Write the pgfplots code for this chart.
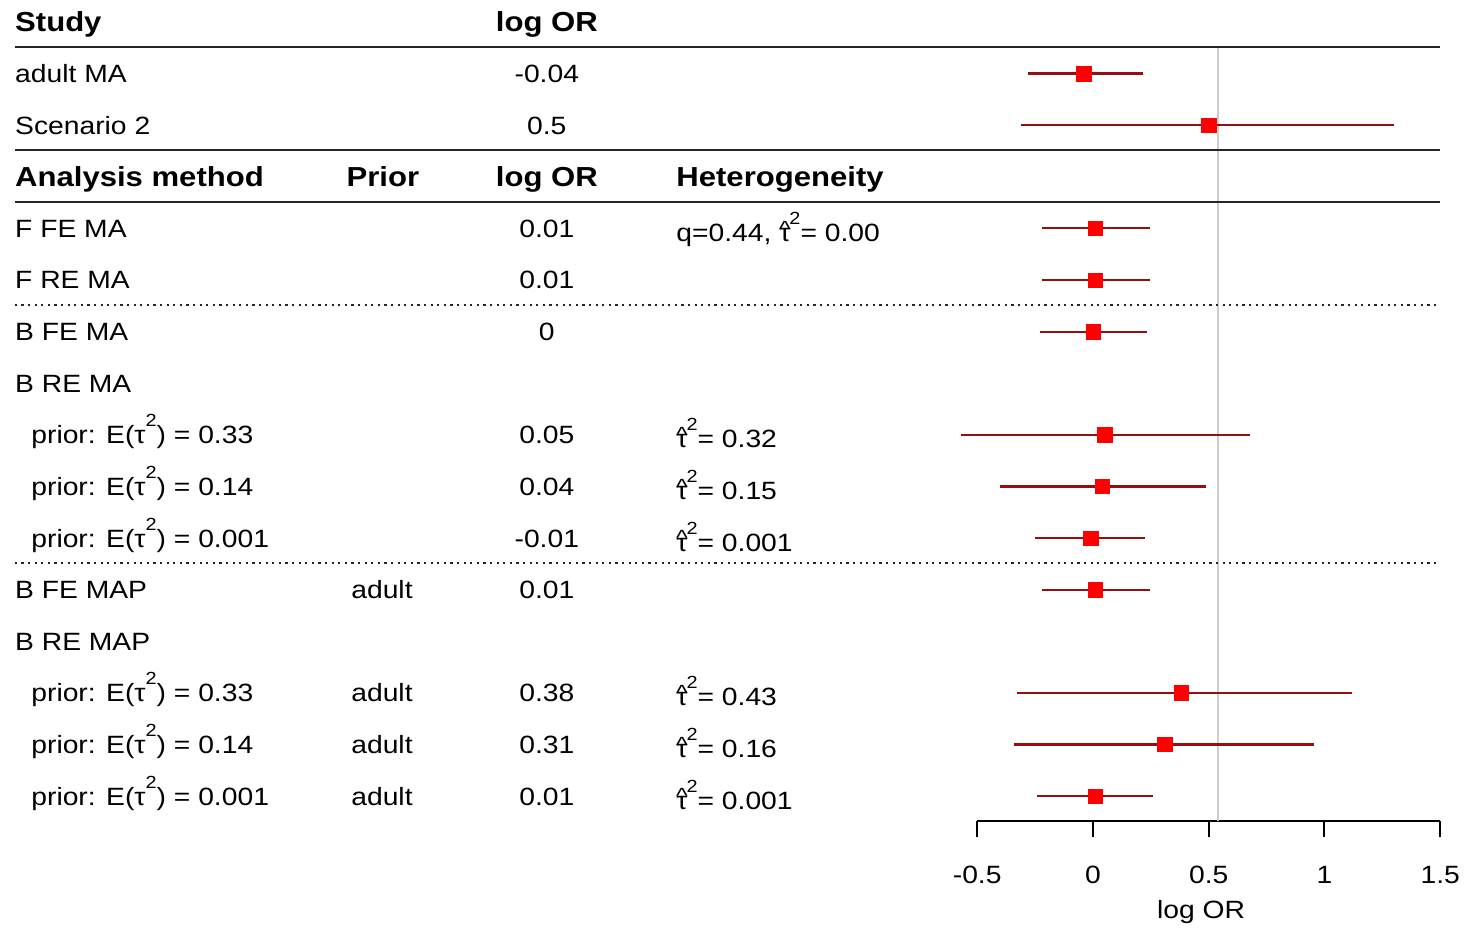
\documentclass[border=0pt]{standalone}
\usepackage{fontspec}
\setmainfont{Liberation Sans}[FakeStretch=1.13]
\usepackage{pgfplots}
\pgfplotsset{compat=1.18}

\definecolor{cired}{RGB}{150,15,15}
\definecolor{refgray}{RGB}{205,205,205}

% tau with hat, and the small raised 2
\newcommand\tauhat{\ooalign{τ\cr\hidewidth\raisebox{2.6pt}{\fontsize{11}{11}\selectfont\textasciicircum}\hidewidth\cr}}
\newcommand\sq{\raisebox{8.5pt}{\fontsize{8.8}{8.8}\selectfont 2}}
\newcommand\prior[1]{prior: E(τ\sq) = #1}
\newcommand\het[1]{\tauhat\kern-0.5pt\sq= #1}

\begin{document}
\fontsize{12.5}{15}\selectfont
\begin{tikzpicture}[
  lt/.style={anchor=base west, yshift=-4.5pt, inner sep=0pt},
  ct/.style={anchor=base, yshift=-4.5pt, inner sep=0pt},
  hl/.style={anchor=base west, yshift=-5pt, inner sep=0pt, font=\fontsize{13.75}{16}\selectfont\bfseries},
  hc/.style={anchor=base, yshift=-5pt, inner sep=0pt, font=\fontsize{13.75}{16}\selectfont\bfseries},
  ht/.style={anchor=base west, yshift=-6.5pt, inner sep=0pt},
]
\begin{axis}[
  x=115.75pt, y=25.8pt,
  xmin=-0.5, xmax=1.5, ymin=-15.484, ymax=0.426,
  axis x line*=bottom, axis y line=none,
  clip=false,
  xtick={-0.5,0,0.5,1,1.5},
  xticklabels={-0.5,0,0.5,1,1.5},
  ytick=\empty,
  tick align=outside,
  major tick length=8pt,
  every tick/.style={black, line width=1pt},
  x axis line style={black, line width=1pt, -},
  x tick label style={anchor=base, yshift=-23pt},
  xlabel={log OR},
  xlabel style={at={(axis description cs:0.4835,0)}, anchor=base, yshift=-48.5pt},
]
% picture frame
\path (axis cs:-4.721,0.426) rectangle (axis cs:1.663,-17.50);

% reference line
\draw[refgray, line width=0.8pt] (axis cs:0.54,-0.484) -- (axis cs:0.54,-15.484);

% rules
\draw[black!85, line width=1pt] (axis cs:-4.657,-0.484) -- (axis cs:1.5,-0.484);
\draw[black!85, line width=1pt] (axis cs:-4.657,-2.48) -- (axis cs:1.5,-2.48);
\draw[black!85, line width=1pt] (axis cs:-4.657,-3.488) -- (axis cs:1.5,-3.488);
\draw[black!85, line width=1.1pt, dash pattern=on 1.1pt off 2.2pt] (axis cs:-4.657,-5.484) -- (axis cs:1.5,-5.484);
\draw[black!85, line width=1.1pt, dash pattern=on 1.1pt off 2.2pt] (axis cs:-4.657,-10.484) -- (axis cs:1.5,-10.484);

% estimates with intervals
\addplot[only marks, mark=square*, mark size=3.6pt,
  mark options={draw=red, fill=red, line width=0.2pt},
  error bars/.cd, x dir=both, x explicit, error mark=none,
  error bar style={cired, line width=1.1pt}]
  table[x=est, y=y,
    x error plus expr=\thisrow{hi}-\thisrow{est},
    x error minus expr=\thisrow{est}-\thisrow{lo}] {
  y    est    lo     hi
  -1   -0.04  -0.28  0.215
  -2    0.50  -0.31  1.30
  -4    0.01  -0.22  0.245
  -5    0.01  -0.22  0.245
  -6    0.00  -0.23  0.235
  -8    0.05  -0.57  0.68
  -9    0.04  -0.40  0.49
  -10  -0.01  -0.25  0.225
  -11   0.01  -0.22  0.245
  -13   0.38  -0.33  1.12
  -14   0.31  -0.34  0.955
  -15   0.01  -0.24  0.26
};

% headers
\node[hl] at (axis cs:-4.657,0) {Study};
\node[hc] at (axis cs:-2.359,0) {log OR};
\node[hl] at (axis cs:-4.657,-3) {Analysis method};
\node[hc] at (axis cs:-3.067,-3) {Prior};
\node[hc] at (axis cs:-2.359,-3) {log OR};
\node[hl] at (axis cs:-1.801,-3) {Heterogeneity};

% first column
\node[lt] at (axis cs:-4.657,-1) {adult MA};
\node[lt] at (axis cs:-4.657,-2) {Scenario 2};
\node[lt] at (axis cs:-4.657,-4) {F FE MA};
\node[lt] at (axis cs:-4.657,-5) {F RE MA};
\node[lt] at (axis cs:-4.657,-6) {B FE MA};
\node[lt] at (axis cs:-4.657,-7) {B RE MA};
\node[lt] at (axis cs:-4.587,-8) {\prior{0.33}};
\node[lt] at (axis cs:-4.587,-9) {\prior{0.14}};
\node[lt] at (axis cs:-4.587,-10) {\prior{0.001}};
\node[lt] at (axis cs:-4.657,-11) {B FE MAP};
\node[lt] at (axis cs:-4.657,-12) {B RE MAP};
\node[lt] at (axis cs:-4.587,-13) {\prior{0.33}};
\node[lt] at (axis cs:-4.587,-14) {\prior{0.14}};
\node[lt] at (axis cs:-4.587,-15) {\prior{0.001}};

% prior column
\node[lt] at (axis cs:-3.205,-11) {adult};
\node[lt] at (axis cs:-3.205,-13) {adult};
\node[lt] at (axis cs:-3.205,-14) {adult};
\node[lt] at (axis cs:-3.205,-15) {adult};

% log OR column
\node[ct] at (axis cs:-2.359,-1) {-0.04};
\node[ct] at (axis cs:-2.359,-2) {0.5};
\node[ct] at (axis cs:-2.359,-4) {0.01};
\node[ct] at (axis cs:-2.359,-5) {0.01};
\node[ct] at (axis cs:-2.359,-6) {0};
\node[ct] at (axis cs:-2.359,-8) {0.05};
\node[ct] at (axis cs:-2.359,-9) {0.04};
\node[ct] at (axis cs:-2.359,-10) {-0.01};
\node[ct] at (axis cs:-2.359,-11) {0.01};
\node[ct] at (axis cs:-2.359,-13) {0.38};
\node[ct] at (axis cs:-2.359,-14) {0.31};
\node[ct] at (axis cs:-2.359,-15) {0.01};

% heterogeneity column
\node[ht] at (axis cs:-1.801,-4) {q=0.44, \het{0.00}};
\node[ht] at (axis cs:-1.801,-8) {\het{0.32}};
\node[ht] at (axis cs:-1.801,-9) {\het{0.15}};
\node[ht] at (axis cs:-1.801,-10) {\het{0.001}};
\node[ht] at (axis cs:-1.801,-13) {\het{0.43}};
\node[ht] at (axis cs:-1.801,-14) {\het{0.16}};
\node[ht] at (axis cs:-1.801,-15) {\het{0.001}};
\end{axis}
\end{tikzpicture}
\end{document}
